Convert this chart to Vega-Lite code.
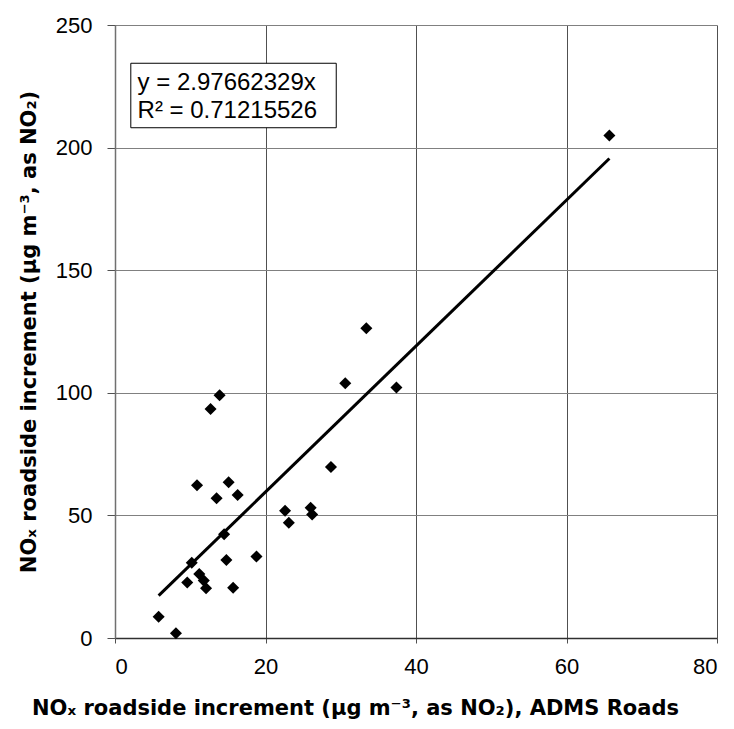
{
  "$schema": "https://vega.github.io/schema/vega-lite/v6.json",
  "width": 602,
  "height": 613,
  "autosize": "none",
  "padding": {"left": 115, "top": 25, "right": 17, "bottom": 91},
  "background": "white",
  "config": {
    "view": {"stroke": null},
    "font": "Liberation Sans",
    "axis": {
      "labelFont": "Liberation Sans",
      "labelFontSize": 22,
      "labelColor": "#000000",
      "titleFont": "DejaVu Sans",
      "titleFontSize": 21,
      "titleFontWeight": "bold",
      "titleColor": "#000000",
      "gridColor": "#808080",
      "gridWidth": 1,
      "gridOpacity": 1,
      "domainColor": "#707070",
      "domainWidth": 1.5,
      "tickColor": "#505050",
      "tickWidth": 1
    }
  },
  "datasets": {
    "points": [
      {"adms": 5.8, "measured": 8.7},
      {"adms": 8.1, "measured": 1.9},
      {"adms": 9.6, "measured": 22.6},
      {"adms": 10.2, "measured": 30.7},
      {"adms": 11.2, "measured": 26.1},
      {"adms": 11.8, "measured": 23.4},
      {"adms": 12.1, "measured": 20.3},
      {"adms": 10.9, "measured": 62.3},
      {"adms": 12.7, "measured": 93.4},
      {"adms": 13.9, "measured": 99.0},
      {"adms": 13.5, "measured": 57.0},
      {"adms": 15.1, "measured": 63.5},
      {"adms": 16.3, "measured": 58.3},
      {"adms": 14.5, "measured": 42.3},
      {"adms": 14.8, "measured": 31.8},
      {"adms": 15.7, "measured": 20.5},
      {"adms": 18.8, "measured": 33.2},
      {"adms": 22.6, "measured": 51.9},
      {"adms": 23.1, "measured": 47.0},
      {"adms": 26.0, "measured": 53.1},
      {"adms": 26.2, "measured": 50.4},
      {"adms": 28.7, "measured": 69.7},
      {"adms": 30.6, "measured": 103.9},
      {"adms": 33.4, "measured": 126.3},
      {"adms": 37.4, "measured": 102.2},
      {"adms": 65.7, "measured": 204.9}
    ],
    "trend": [
      {"adms": 5.8, "measured": 17.26},
      {"adms": 65.7, "measured": 195.56}
    ],
    "box": [
      {"x0": 2.1, "x1": 29.4, "y0": 208.1, "y1": 234.4}
    ],
    "labels": [
      {"adms": 3.0, "measured": 226.2, "text": "y = 2.97662329x"},
      {"adms": 3.0, "measured": 215.0, "text": "R² = 0.71215526"}
    ]
  },
  "layer": [
    {
      "data": {"name": "points"},
      "mark": {"type": "point", "shape": "diamond", "filled": true, "color": "#000000", "size": 145, "opacity": 1},
      "encoding": {
        "x": {
          "field": "adms", "type": "quantitative",
          "scale": {"domain": [0, 80], "nice": false, "zero": false},
          "axis": {
            "values": [0, 20, 40, 60, 80],
            "title": "NOₓ roadside increment (µg m⁻³, as NO₂), ADMS Roads",
            "gridColor": "#505050",
            "tickSize": 5,
            "labelPadding": 13,
            "titlePadding": 20,
            "titleX": 240,
            "titleAnchor": "start",
            "titleAlign": "center",
            "domainColor": "#303030"
          }
        },
        "y": {
          "field": "measured", "type": "quantitative",
          "scale": {"domain": [0, 250], "nice": false, "zero": false},
          "axis": {
            "values": [0, 50, 100, 150, 200, 250],
            "title": "NOₓ roadside increment (µg m⁻³, as NO₂)",
            "tickSize": 8,
            "labelPadding": 15,
            "titlePadding": 16
          }
        }
      }
    },
    {
      "data": {"name": "trend"},
      "mark": {"type": "line", "color": "#000000", "strokeWidth": 3},
      "encoding": {
        "x": {"field": "adms", "type": "quantitative"},
        "y": {"field": "measured", "type": "quantitative"}
      }
    },
    {
      "data": {"name": "box"},
      "mark": {"type": "rect", "fill": "white", "stroke": "#000000", "strokeWidth": 1},
      "encoding": {
        "x": {"field": "x0", "type": "quantitative"},
        "x2": {"field": "x1"},
        "y": {"field": "y0", "type": "quantitative"},
        "y2": {"field": "y1"}
      }
    },
    {
      "data": {"name": "labels"},
      "mark": {"type": "text", "align": "left", "baseline": "middle", "fontSize": 24, "font": "Liberation Sans", "color": "#000000"},
      "encoding": {
        "x": {"field": "adms", "type": "quantitative"},
        "y": {"field": "measured", "type": "quantitative"},
        "text": {"field": "text"}
      }
    }
  ]
}
